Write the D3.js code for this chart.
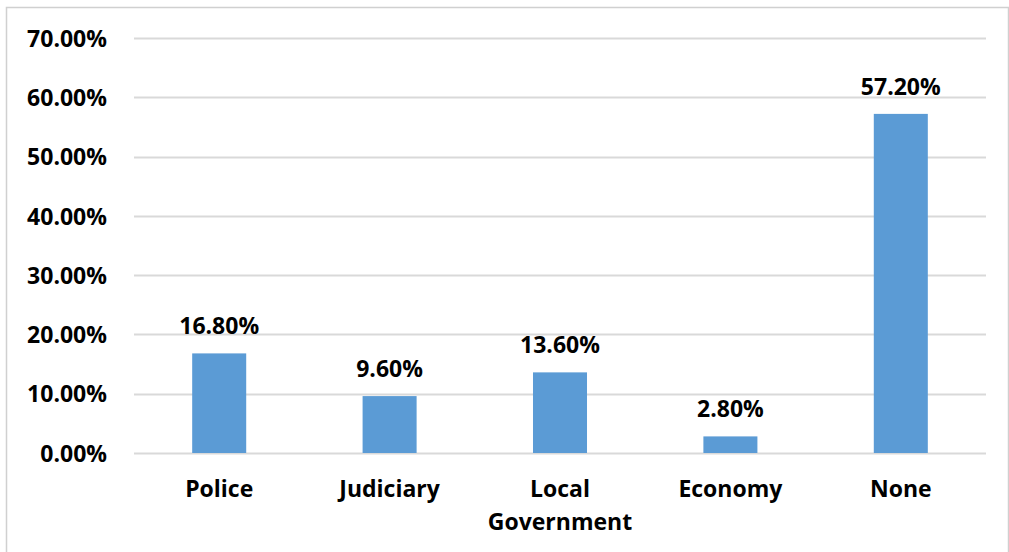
<!DOCTYPE html>
<html>
<head>
<meta charset="utf-8">
<script src="https://cdn.jsdelivr.net/npm/d3@7"></script>
<style>
  html, body { margin: 0; padding: 0; background: #fff; }
  svg { display: block; }
  text { font-family: "Open Sans", "Noto Sans", sans-serif; font-weight: 700; fill: #000; }
</style>
</head>
<body>
<svg id="chart" width="1009" height="552"></svg>
<script>
// Share of respondents by institution
const categories = ["Police", "Judiciary", "Local Government", "Economy", "None"];
const values = [16.8, 9.6, 13.6, 2.8, 57.2];
const tickValues = [0, 10, 20, 30, 40, 50, 60, 70];

const W = 1009, H = 552;
const margin = { left: 134, right: 23, top: 38, bottom: 99 };

const svg = d3.select("#chart");

// Chart frame
svg.append("rect")
  .attr("x", 6.5).attr("y", 7.5)
  .attr("width", W - 7).attr("height", H - 6)
  .attr("fill", "#fff")
  .attr("stroke", "#d0d0d0")
  .attr("stroke-width", 1.5);

const x = d3.scaleBand()
  .domain(categories)
  .range([margin.left, W - margin.right])
  .paddingInner(0.683)
  .paddingOuter(0.3415);

const y = d3.scaleLinear()
  .domain([0, 70])
  .range([H - margin.bottom, margin.top]);

// Horizontal gridlines
svg.append("g")
  .selectAll("line")
  .data(tickValues)
  .join("line")
  .attr("x1", margin.left).attr("x2", W - margin.right)
  .attr("y1", d => Math.round(y(d)) + 0.5)
  .attr("y2", d => Math.round(y(d)) + 0.5)
  .attr("stroke", "#d9d9d9")
  .attr("stroke-width", 2);

// Y axis labels
const yAxis = d3.axisLeft(y)
  .tickValues(tickValues)
  .tickFormat(d => d.toFixed(2) + "%")
  .tickSize(0)
  .tickPadding(27);
const yg = svg.append("g")
  .attr("transform", `translate(${margin.left},0)`)
  .call(yAxis);
yg.select(".domain").remove();
yg.selectAll("text")
  .attr("font-size", 23)
  .attr("dy", "0.36em")
  .style("font-family", null)
  .attr("font-family", null);

// Bars
svg.append("g")
  .selectAll("rect")
  .data(categories)
  .join("rect")
  .attr("x", d => x(d))
  .attr("width", x.bandwidth())
  .attr("y", (d, i) => y(values[i]))
  .attr("height", (d, i) => y(0) - y(values[i]))
  .attr("fill", "#5b9bd5");

// Value labels
svg.append("g")
  .selectAll("text")
  .data(categories)
  .join("text")
  .attr("x", d => x(d) + x.bandwidth() / 2)
  .attr("y", (d, i) => y(values[i]) - 19)
  .attr("text-anchor", "middle")
  .attr("font-size", 23)
  .text((d, i) => values[i].toFixed(2) + "%");

// Category labels (wrapped onto two lines where needed)
const xAxis = d3.axisBottom(x).tickSize(0).tickFormat("");
const xg = svg.append("g")
  .attr("transform", `translate(0,${y(0)})`)
  .call(xAxis);
xg.select(".domain").remove();

const labelWrap = { "Local Government": ["Local", "Government"] };
const catLabels = svg.append("g")
  .selectAll("text")
  .data(categories)
  .join("text")
  .attr("x", d => x(d) + x.bandwidth() / 2)
  .attr("y", y(0) + 44)
  .attr("text-anchor", "middle")
  .attr("font-size", 23);
catLabels.each(function(d) {
  const lines = labelWrap[d] || [d];
  const t = d3.select(this);
  lines.forEach((ln, i) => {
    t.append("tspan")
      .attr("x", x(d) + x.bandwidth() / 2)
      .attr("dy", i === 0 ? 0 : 33)
      .text(ln);
  });
});
</script>
</body>
</html>
